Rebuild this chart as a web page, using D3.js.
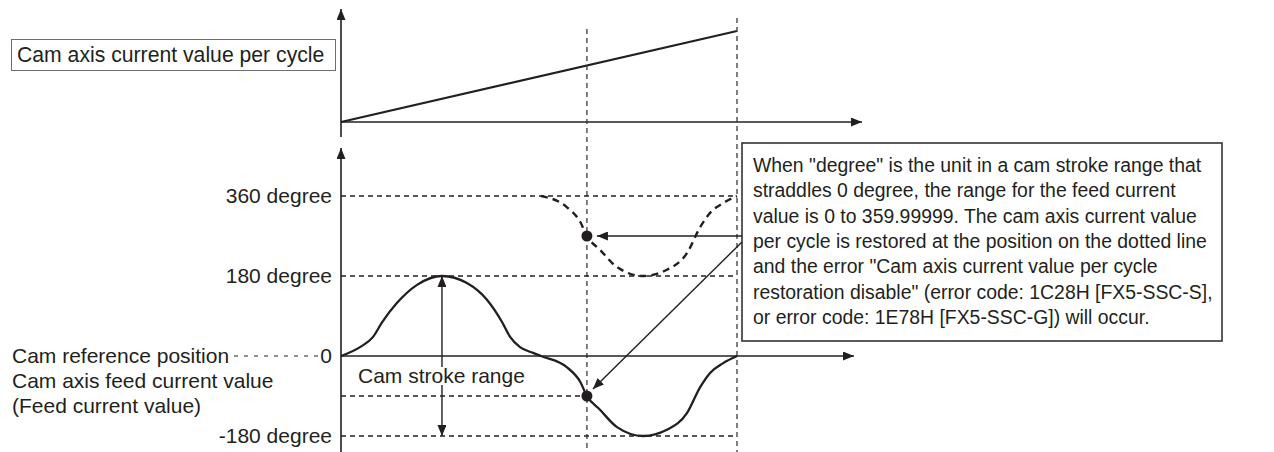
<!DOCTYPE html>
<html>
<head>
<meta charset="utf-8">
<script src="https://cdn.jsdelivr.net/npm/d3@7"></script>
<style>
  html, body { margin: 0; padding: 0; background: #fff; }
  svg { display: block; font-family: "Liberation Sans", Arial, sans-serif; }
</style>
</head>
<body>
<svg id="chart" width="1274" height="452"></svg>
<script>
// Cam phase (percent of one cam cycle) and the cam axis feed current value in degrees
const camPhase = [0, 4.8, 8.1, 10.4, 14.1, 19.2, 25.5, 31.8, 36.9, 40.7, 42.7, 45.2, 48.5, 50.5,
                  57, 60.4, 62.1, 65.4, 69.7, 76.3, 82.3, 87.4, 90.7, 93.2, 96.5, 100];
const feedDegree = [0, 20, 43, 76, 119, 160, 180, 164, 126, 76, 43, 20, 7, 0,
                    -25, -58, -90, -121, -160, -180, -166, -128, -70, -38, -16, 0];

// Cam axis current value per cycle (linear over one cycle)
const cyclePhase = [0, 100];
const cycleValue = [0, 100];

// Reference levels on the feed current value axis
const levelValues = [360, 180, 0, -180];
const levelLabels = ["360 degree", "180 degree", "0", "-180 degree"];

// Restoration point (phase where power is restored) and cycle end
const restorePhase = 62.1;
const cycleEnd = 100;
const strokePhase = 25.5;
const strokeRange = [180, -180];
const wrapOffset = 360;

const noteLines = [
  "When \"degree\" is the unit in a cam stroke range that",
  "straddles 0 degree, the range for the feed current",
  "value is 0 to 359.99999. The cam axis current value",
  "per cycle is restored at the position on the dotted line",
  "and the error \"Cam axis current value per cycle",
  "restoration disable\" (error code: 1C28H [FX5-SSC-S],",
  "or error code: 1E78H [FX5-SSC-G]) will occur."
];

const ink = "#231f20";
const svg = d3.select("#chart");

const x = d3.scaleLinear().domain([0, 100]).range([341, 737]);
const yTop = d3.scaleLinear().domain([0, 100]).range([122, 31]);
const yFeed = d3.scaleLinear().domain([-180, 360]).range([436, 196]);

// arrowhead markers
const defs = svg.append("defs");
function marker(id, len, wid) {
  defs.append("marker")
    .attr("id", id)
    .attr("viewBox", `0 0 ${len} ${wid}`)
    .attr("refX", len).attr("refY", wid / 2)
    .attr("markerWidth", len).attr("markerHeight", wid)
    .attr("markerUnits", "userSpaceOnUse")
    .attr("orient", "auto-start-reverse")
    .append("path")
    .attr("d", `M0,0L${len},${wid / 2}L0,${wid}Z`)
    .attr("fill", ink);
}
marker("axisHead", 11, 9);
marker("noteHead", 11, 9);

// ---------- top panel: cam axis current value per cycle ----------
svg.append("line")
  .attr("x1", x(0)).attr("x2", x(0))
  .attr("y1", 137).attr("y2", 9)
  .attr("stroke", ink).attr("stroke-width", 1.6)
  .attr("marker-end", "url(#axisHead)");
svg.append("line")
  .attr("x1", x(0)).attr("x2", 862)
  .attr("y1", yTop(0)).attr("y2", yTop(0))
  .attr("stroke", ink).attr("stroke-width", 1.6)
  .attr("marker-end", "url(#axisHead)");

const cycleData = cyclePhase.map((p, i) => [p, cycleValue[i]]);
svg.append("path")
  .datum(cycleData)
  .attr("d", d3.line().x(d => x(d[0])).y(d => yTop(d[1])))
  .attr("fill", "none").attr("stroke", ink).attr("stroke-width", 2.2);

svg.append("rect")
  .attr("x", 11.5).attr("y", 39.5).attr("width", 324).attr("height", 31)
  .attr("fill", "#fff").attr("stroke", "#6d6d6d").attr("stroke-width", 1);
svg.append("text")
  .attr("x", 17).attr("y", 62)
  .attr("font-size", 21.2).attr("fill", ink)
  .text("Cam axis current value per cycle");

// ---------- vertical dashed markers ----------
svg.append("line")
  .attr("x1", x(restorePhase)).attr("x2", x(restorePhase))
  .attr("y1", 29).attr("y2", 452)
  .attr("stroke", "#3a3a3a").attr("stroke-width", 1.3).attr("stroke-dasharray", "5,4");
svg.append("line")
  .attr("x1", x(cycleEnd)).attr("x2", x(cycleEnd))
  .attr("y1", 18).attr("y2", 452)
  .attr("stroke", "#3a3a3a").attr("stroke-width", 1.3).attr("stroke-dasharray", "5,4");

// ---------- bottom panel: cam axis feed current value ----------
// horizontal reference levels
[360, 180, -180].forEach(v => {
  svg.append("line")
    .attr("x1", x(0)).attr("x2", x(cycleEnd))
    .attr("y1", yFeed(v)).attr("y2", yFeed(v))
    .attr("stroke", ink).attr("stroke-width", 1.3).attr("stroke-dasharray", "5,4");
});

const curveData = camPhase.map((p, i) => [p, feedDegree[i]]);
const restoreValue = feedDegree[camPhase.indexOf(restorePhase)];

// level of the restored feed value
svg.append("line")
  .attr("x1", x(0)).attr("x2", x(restorePhase))
  .attr("y1", yFeed(restoreValue)).attr("y2", yFeed(restoreValue))
  .attr("stroke", ink).attr("stroke-width", 1.3).attr("stroke-dasharray", "5,4");

// left axis with level labels
const axis = d3.axisLeft(yFeed)
  .tickValues(levelValues)
  .tickFormat((d, i) => levelLabels[i])
  .tickSize(0).tickPadding(9);
const axisG = svg.append("g").attr("transform", `translate(${x(0)},0)`).call(axis);
axisG.select(".domain").remove();
axisG.selectAll("text")
  .attr("font-size", 21).attr("fill", ink)
  .attr("font-family", "'Liberation Sans', Arial, sans-serif");

svg.append("line")
  .attr("x1", x(0)).attr("x2", x(0))
  .attr("y1", 452).attr("y2", 148)
  .attr("stroke", ink).attr("stroke-width", 1.6)
  .attr("marker-end", "url(#axisHead)");
svg.append("line")
  .attr("x1", x(0)).attr("x2", 854)
  .attr("y1", yFeed(0)).attr("y2", yFeed(0))
  .attr("stroke", ink).attr("stroke-width", 1.6)
  .attr("marker-end", "url(#axisHead)");

// left descriptive labels
svg.append("text").attr("x", 12).attr("y", yFeed(0) + 7)
  .attr("font-size", 21).attr("fill", ink).text("Cam reference position");
svg.append("line")
  .attr("x1", 234).attr("x2", 318)
  .attr("y1", yFeed(0)).attr("y2", yFeed(0))
  .attr("stroke", ink).attr("stroke-width", 1.2).attr("stroke-dasharray", "4,6");
svg.append("text").attr("x", 12).attr("y", 388)
  .attr("font-size", 21).attr("fill", ink).text("Cam axis feed current value");
svg.append("text").attr("x", 12).attr("y", 413)
  .attr("font-size", 21).attr("fill", ink).text("(Feed current value)");

// feed current value curve
const line = d3.line().x(d => x(d[0])).y(d => yFeed(d[1])).curve(d3.curveMonotoneX);
svg.append("path")
  .datum(curveData)
  .attr("d", line)
  .attr("fill", "none").attr("stroke", ink).attr("stroke-width", 2.3);

// wrapped (0 to 359.99999) representation of the negative part
const wrapped = curveData.filter(d => d[0] >= 50 && d[1] <= 0).map(d => [d[0], d[1] + wrapOffset]);
svg.append("path")
  .datum(wrapped)
  .attr("d", line)
  .attr("fill", "none").attr("stroke", ink).attr("stroke-width", 2.4)
  .attr("stroke-dasharray", "7,5");

// cam stroke range arrow
svg.append("line")
  .attr("x1", x(strokePhase)).attr("x2", x(strokePhase))
  .attr("y1", yFeed(strokeRange[0])).attr("y2", yFeed(strokeRange[1]))
  .attr("stroke", ink).attr("stroke-width", 1.4)
  .attr("marker-start", "url(#axisHead)")
  .attr("marker-end", "url(#axisHead)");
const strokeLabel = svg.append("text")
  .attr("x", 358).attr("y", 383)
  .attr("font-size", 21).attr("fill", ink).text("Cam stroke range");
const bb = strokeLabel.node().getBBox();
svg.insert("rect", () => strokeLabel.node())
  .attr("x", bb.x - 2).attr("y", bb.y + 3).attr("width", bb.width + 4).attr("height", bb.height - 5)
  .attr("fill", "#fff");

// restoration points
const points = [[restorePhase, restoreValue + wrapOffset], [restorePhase, restoreValue]];
svg.selectAll("circle.pt")
  .data(points).enter().append("circle")
  .attr("class", "pt")
  .attr("cx", d => x(d[0])).attr("cy", d => yFeed(d[1]))
  .attr("r", 5.5).attr("fill", ink);

// ---------- note box ----------
const box = { x: 742, y: 143, w: 480, h: 198 };
svg.append("rect")
  .attr("x", box.x).attr("y", box.y).attr("width", box.w).attr("height", box.h)
  .attr("fill", "#fff").attr("stroke", "#3f3f3f").attr("stroke-width", 1.7);
svg.append("g").selectAll("text")
  .data(noteLines).enter().append("text")
  .attr("x", 753).attr("y", (d, i) => 172 + i * 25.3)
  .attr("font-size", 19.4).attr("fill", ink)
  .text(d => d);

// arrows from note box to the two restoration points
svg.append("line")
  .attr("x1", box.x).attr("y1", yFeed(points[0][1]))
  .attr("x2", x(points[0][0]) + 10).attr("y2", yFeed(points[0][1]))
  .attr("stroke", ink).attr("stroke-width", 1.4)
  .attr("marker-end", "url(#noteHead)");
svg.append("line")
  .attr("x1", box.x).attr("y1", yFeed(points[0][1]) + 6)
  .attr("x2", x(points[1][0]) + 6).attr("y2", yFeed(points[1][1]) - 7)
  .attr("stroke", ink).attr("stroke-width", 1.4)
  .attr("marker-end", "url(#noteHead)");
</script>
</body>
</html>
